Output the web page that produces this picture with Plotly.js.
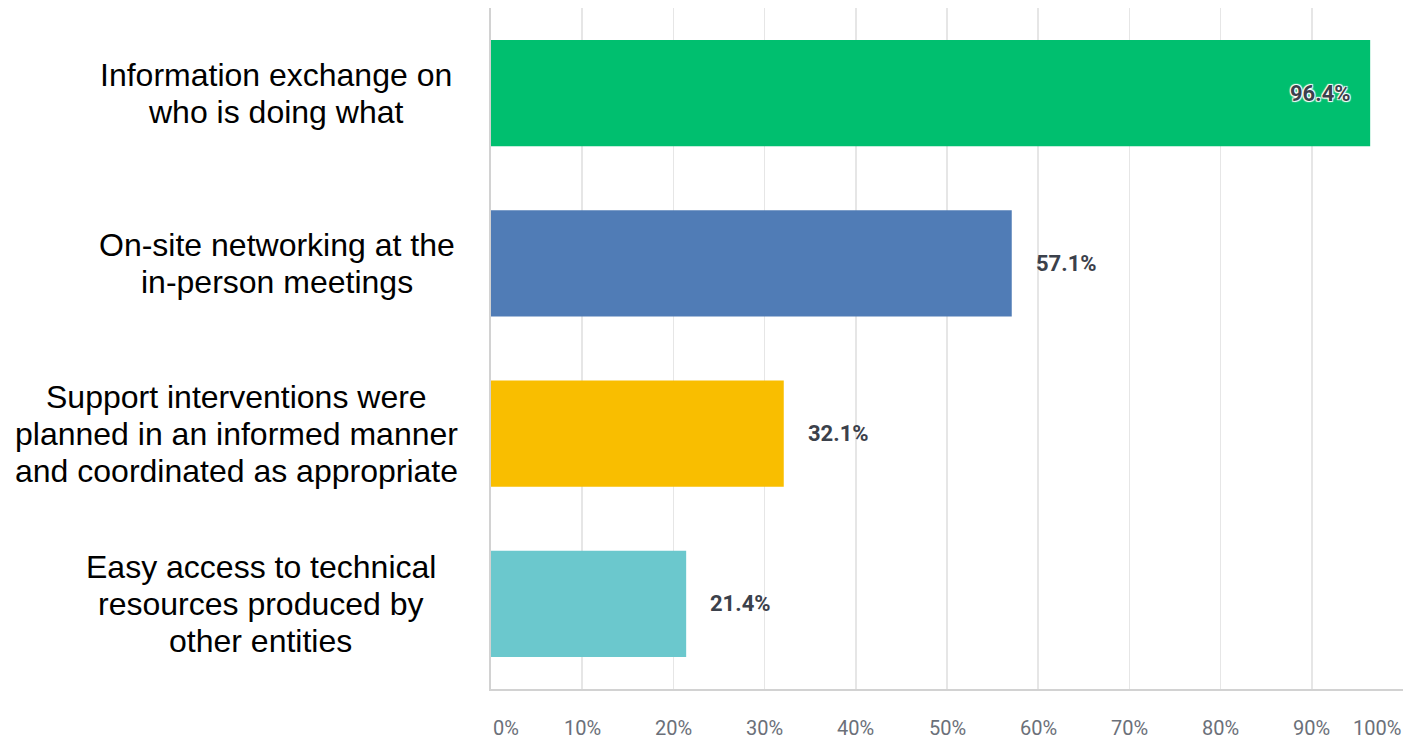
<!DOCTYPE html>
<html>
<head>
<meta charset="utf-8">
<script src="https://cdn.plot.ly/plotly-3.0.1.min.js"></script>
<style>html,body{margin:0;padding:0;background:#fff;}#chart{width:1407px;height:739px;}</style>
</head>
<body>
<div id="chart"></div>
<script>
const categories = [
  "Information exchange on<br>who is doing what",
  "On-site networking at the<br>in-person meetings",
  "Support interventions were<br>planned in an informed manner<br>and coordinated as appropriate",
  "Easy access to technical<br>resources produced by<br>other entities"
];
const values = [96.4, 57.1, 32.1, 21.4];
const valueLabels = ["96.4%", "57.1%", "32.1%", "21.4%"];
const barColors = ["#00BF6F", "#507CB6", "#F9BE00", "#6BC8CD"];
const tickValues = [0, 10, 20, 30, 40, 50, 60, 70, 80, 90, 100];
const tickLabels = ["0%", "10%", "20%", "30%", "40%", "50%", "60%", "70%", "80%", "90%", "100%"];

const ids = categories.map((c, i) => i);

// layout settings
const MARGIN_L = 491;
const LABEL_RIGHT_EDGES = [452, 455, 458, 436];
const CAT_FONT_SIZE = 32;
const CAT_LINE_H = 37;
const catFont = "Liberation Sans, Arial, sans-serif";

const canvas = document.createElement("canvas");
const ctx = canvas.getContext("2d");
ctx.font = CAT_FONT_SIZE + "px 'Liberation Sans', Arial, sans-serif";

const trace = {
  type: "bar",
  orientation: "h",
  x: values,
  y: ids,
  marker: {color: barColors},
  hoverinfo: "skip"
};

const annotations = [];
categories.forEach((c, i) => {
  const lines = c.split("<br>");
  const w = Math.max(...lines.map(l => ctx.measureText(l).width));
  const centerShift = -(MARGIN_L - LABEL_RIGHT_EDGES[i]) - w / 2;
  lines.forEach((line, j) => {
    annotations.push({
      xref: "paper", yref: "y", x: 0, y: i, xanchor: "center", yanchor: "middle",
      xshift: centerShift, yshift: ((lines.length - 1) / 2 - j) * CAT_LINE_H,
      showarrow: false, text: line,
      font: {family: catFont, size: CAT_FONT_SIZE, color: "#000"}
    });
  });
});
values.forEach((v, i) => {
  const inside = v > 90;
  annotations.push({
    xref: "x", yref: "y", x: v, y: i,
    xanchor: inside ? "right" : "left", yanchor: "middle",
    xshift: inside ? -17 : 22, showarrow: false, text: valueLabels[i],
    font: {family: "Roboto, Arial, sans-serif", size: 22, color: "#3b414b", weight: 700,
           shadow: inside ? "1px 1px 1px #fff, -1px -1px 1px #fff, 1px -1px 1px #fff, -1px 1px 1px #fff" : "none"}
  });
});
tickValues.forEach((v, i) => {
  let anchor = "center";
  if (i === 0) anchor = "left";
  if (i === tickValues.length - 1) anchor = "right";
  annotations.push({
    xref: "x", yref: "paper", x: v, y: 0, yshift: -39, xanchor: anchor, yanchor: "middle",
    showarrow: false, text: tickLabels[i],
    font: {family: "Roboto, Arial, sans-serif", size: 20, color: "#6b7079"}
  });
});

const layout = {
  width: 1407, height: 739,
  margin: {l: MARGIN_L, r: 4, t: 8, b: 50},
  paper_bgcolor: "#fff", plot_bgcolor: "#fff",
  bargap: 0.376,
  showlegend: false,
  xaxis: {
    range: [0, 100], tickvals: tickValues, showticklabels: false,
    showgrid: true, gridcolor: "#e6e6e6", gridwidth: 1.5, zeroline: false,
    showline: true, linecolor: "#d2d2d2", linewidth: 2, fixedrange: true
  },
  yaxis: {
    range: [3.5, -0.5], showticklabels: false, showgrid: false, zeroline: false,
    showline: true, linecolor: "#d2d2d2", linewidth: 2, tickvals: ids, ticks: "", fixedrange: true
  },
  annotations: annotations
};

Plotly.newPlot("chart", [trace], layout, {displayModeBar: false, staticPlot: true});
</script>
</body>
</html>
